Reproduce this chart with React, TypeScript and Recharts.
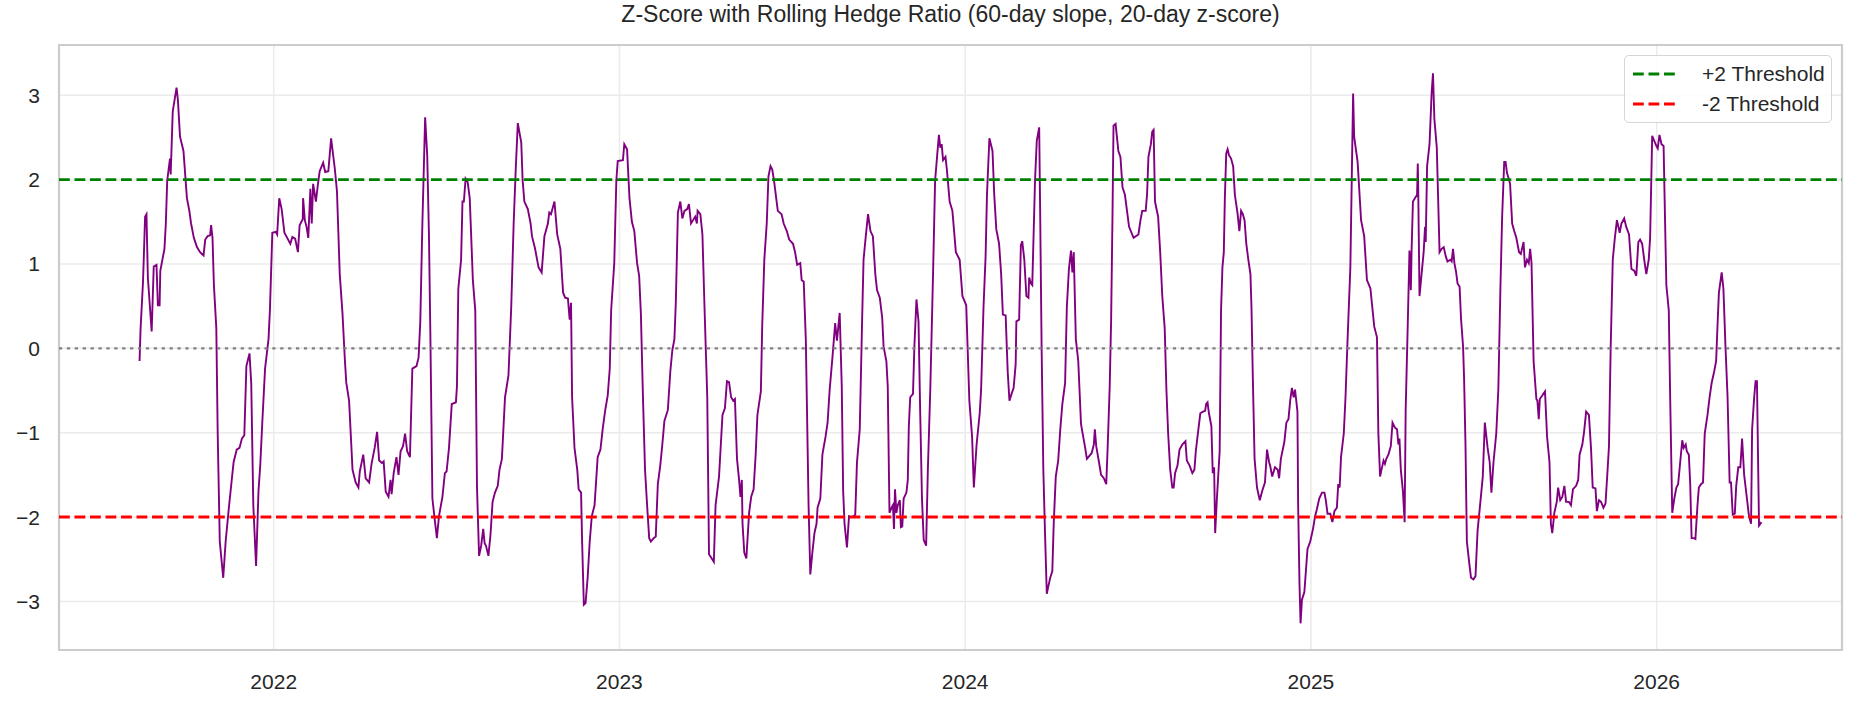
import {
  LineChart,
  Line,
  XAxis,
  YAxis,
  CartesianGrid,
  ReferenceLine,
  ReferenceArea,
} from 'recharts';

// time as decimal years (2022.0 = 1 Jan 2022)
const dates = [
  2021.612, 2021.615, 2021.622, 2021.628, 2021.632, 2021.636, 2021.642, 2021.647, 2021.653, 2021.661,
  2021.665, 2021.67, 2021.672, 2021.684, 2021.688, 2021.692, 2021.7, 2021.702, 2021.708, 2021.719,
  2021.723, 2021.729, 2021.739, 2021.749, 2021.756, 2021.761, 2021.769, 2021.778, 2021.787, 2021.797,
  2021.802, 2021.809, 2021.816, 2021.819, 2021.823, 2021.827, 2021.834, 2021.838, 2021.844, 2021.854,
  2021.861, 2021.871, 2021.884, 2021.893, 2021.901, 2021.908, 2021.915, 2021.921, 2021.93, 2021.935,
  2021.941, 2021.949, 2021.956, 2021.961, 2021.967, 2021.975, 2021.985, 2021.989, 2021.996, 2022.006,
  2022.01, 2022.016, 2022.023, 2022.031, 2022.039, 2022.048, 2022.054, 2022.062, 2022.07, 2022.075,
  2022.084,
  2022.085, 2022.09, 2022.095, 2022.1, 2022.106, 2022.11, 2022.114, 2022.122, 2022.128, 2022.133,
  2022.143, 2022.149, 2022.158, 2022.166, 2022.177, 2022.183, 2022.191, 2022.199, 2022.206, 2022.21,
  2022.218, 2022.228, 2022.237, 2022.245, 2022.249, 2022.259, 2022.266, 2022.276, 2022.283, 2022.292,
  2022.299, 2022.305, 2022.313, 2022.318, 2022.324, 2022.332, 2022.338, 2022.341, 2022.347, 2022.355,
  2022.361, 2022.367, 2022.374, 2022.38, 2022.386, 2022.394, 2022.401, 2022.413, 2022.419, 2022.424,
  2022.43, 2022.438, 2022.444, 2022.449, 2022.453, 2022.459, 2022.466, 2022.472, 2022.478, 2022.488,
  2022.495, 2022.5, 2022.507, 2022.515, 2022.527, 2022.53, 2022.534, 2022.542, 2022.546, 2022.55,
  2022.555, 2022.561, 2022.567,
  2022.576, 2022.583, 2022.588, 2022.594, 2022.6, 2022.606, 2022.61, 2022.614, 2022.621, 2022.627,
  2022.633, 2022.64, 2022.648, 2022.653, 2022.66, 2022.669, 2022.679, 2022.687, 2022.694, 2022.7,
  2022.706, 2022.716, 2022.72, 2022.725, 2022.735, 2022.743, 2022.747, 2022.756, 2022.766, 2022.775,
  2022.783, 2022.793, 2022.797, 2022.802, 2022.812, 2022.82, 2022.829, 2022.837, 2022.843, 2022.851,
  2022.856, 2022.86, 2022.863, 2022.87, 2022.878, 2022.882, 2022.889, 2022.892, 2022.897, 2022.902,
  2022.908, 2022.914, 2022.92, 2022.928, 2022.937, 2022.945, 2022.952, 2022.959, 2022.966, 2022.972,
  2022.976, 2022.985, 2022.991, 2022.995, 2023.01, 2023.014, 2023.022, 2023.029, 2023.036, 2023.043,
  2023.051,
  2023.057, 2023.062, 2023.068, 2023.074, 2023.08, 2023.086, 2023.091, 2023.099, 2023.105, 2023.111,
  2023.118, 2023.124, 2023.13, 2023.14, 2023.147, 2023.153, 2023.159, 2023.163, 2023.169, 2023.176,
  2023.182, 2023.188, 2023.196, 2023.201, 2023.207, 2023.213, 2023.219, 2023.224, 2023.226, 2023.234,
  2023.24, 2023.246, 2023.254, 2023.259, 2023.267, 2023.273, 2023.278, 2023.288, 2023.298, 2023.305,
  2023.311, 2023.317, 2023.323, 2023.329, 2023.334, 2023.34, 2023.346, 2023.35, 2023.354, 2023.356,
  2023.361, 2023.367, 2023.375, 2023.381, 2023.388, 2023.394, 2023.399, 2023.409, 2023.413, 2023.419,
  2023.426, 2023.431, 2023.437, 2023.442, 2023.447, 2023.454, 2023.458, 2023.469, 2023.475, 2023.484,
  2023.491, 2023.502, 2023.508, 2023.514, 2023.523, 2023.527, 2023.533, 2023.539,
  2023.547, 2023.552, 2023.558, 2023.564, 2023.57, 2023.573, 2023.581, 2023.587, 2023.596, 2023.602,
  2023.608, 2023.616, 2023.624, 2023.629, 2023.637, 2023.643, 2023.647, 2023.651, 2023.658, 2023.664,
  2023.67, 2023.678, 2023.682, 2023.687, 2023.695, 2023.702, 2023.706, 2023.712, 2023.719, 2023.726,
  2023.733, 2023.74, 2023.745, 2023.753, 2023.76, 2023.764, 2023.772, 2023.776, 2023.781, 2023.787,
  2023.791, 2023.794, 2023.797, 2023.801, 2023.805, 2023.811, 2023.814, 2023.818, 2023.822, 2023.83,
  2023.834, 2023.837, 2023.841, 2023.849, 2023.853, 2023.859, 2023.865, 2023.87, 2023.875, 2023.88,
  2023.887, 2023.892, 2023.899, 2023.907, 2023.913, 2023.919, 2023.924, 2023.928, 2023.932, 2023.936,
  2023.943, 2023.947, 2023.955, 2023.963, 2023.973, 2023.984, 2023.992, 2024.003, 2024.012, 2024.02,
  2024.025,
  2024.033, 2024.042, 2024.046, 2024.053, 2024.059, 2024.063, 2024.07, 2024.079, 2024.084, 2024.09,
  2024.098, 2024.104, 2024.109, 2024.117, 2024.123, 2024.128, 2024.134, 2024.14, 2024.146, 2024.148,
  2024.156, 2024.161, 2024.165, 2024.171, 2024.177, 2024.183, 2024.185, 2024.19, 2024.194, 2024.202,
  2024.207, 2024.214, 2024.217, 2024.221, 2024.226, 2024.231, 2024.236, 2024.241, 2024.246, 2024.252,
  2024.256, 2024.262, 2024.269, 2024.275, 2024.281, 2024.289, 2024.294, 2024.3, 2024.306, 2024.31,
  2024.314, 2024.32, 2024.327, 2024.335, 2024.347, 2024.352, 2024.358, 2024.366, 2024.372, 2024.375,
  2024.379, 2024.387, 2024.393, 2024.401, 2024.408, 2024.412, 2024.418, 2024.422, 2024.426, 2024.429,
  2024.435, 2024.443, 2024.449, 2024.455, 2024.462, 2024.468, 2024.474, 2024.487, 2024.501, 2024.507,
  2024.512,
  2024.522, 2024.526, 2024.53, 2024.537, 2024.541, 2024.545, 2024.549, 2024.558, 2024.564, 2024.57,
  2024.577, 2024.582, 2024.587, 2024.593, 2024.599, 2024.603, 2024.607, 2024.614, 2024.62, 2024.628,
  2024.637, 2024.641, 2024.649, 2024.657, 2024.663, 2024.667, 2024.673, 2024.68, 2024.688, 2024.694,
  2024.697, 2024.701, 2024.705, 2024.712, 2024.716, 2024.72, 2024.723, 2024.728, 2024.736, 2024.74,
  2024.744, 2024.748, 2024.751, 2024.755, 2024.759, 2024.763, 2024.769, 2024.775, 2024.78, 2024.788,
  2024.793, 2024.798, 2024.803, 2024.808, 2024.813, 2024.819, 2024.825, 2024.828, 2024.832, 2024.837,
  2024.844, 2024.852, 2024.859, 2024.867, 2024.873, 2024.879, 2024.882, 2024.888, 2024.896, 2024.904,
  2024.908, 2024.913, 2024.923, 2024.929, 2024.935, 2024.94, 2024.945, 2024.95, 2024.954, 2024.961,
  2024.963, 2024.967, 2024.97, 2024.974, 2024.981, 2024.987, 2024.99, 2024.998,
  2025.006, 2025.012, 2025.017, 2025.024, 2025.032, 2025.039, 2025.043, 2025.048, 2025.056, 2025.062,
  2025.068, 2025.075, 2025.079, 2025.083, 2025.087, 2025.095, 2025.1, 2025.106, 2025.114, 2025.118,
  2025.122, 2025.125, 2025.135, 2025.145, 2025.154, 2025.162, 2025.166, 2025.172, 2025.183, 2025.191,
  2025.195, 2025.2, 2025.204, 2025.21, 2025.214, 2025.218, 2025.224, 2025.231, 2025.236, 2025.243,
  2025.249, 2025.253, 2025.256, 2025.26, 2025.266, 2025.271, 2025.274, 2025.28, 2025.285, 2025.289,
  2025.291, 2025.295, 2025.307, 2025.309, 2025.31, 2025.314, 2025.32, 2025.326, 2025.33, 2025.332,
  2025.336, 2025.343, 2025.349, 2025.353, 2025.357, 2025.364, 2025.372, 2025.378, 2025.384, 2025.39,
  2025.395, 2025.403, 2025.407, 2025.411, 2025.415, 2025.42, 2025.424, 2025.43, 2025.434, 2025.44,
  2025.443, 2025.447, 2025.451, 2025.458, 2025.463, 2025.47, 2025.476, 2025.482,
  2025.492, 2025.497, 2025.503, 2025.511, 2025.517, 2025.522, 2025.528, 2025.536, 2025.542, 2025.548,
  2025.553, 2025.559, 2025.563, 2025.567, 2025.576, 2025.582, 2025.588, 2025.594, 2025.602, 2025.607,
  2025.615, 2025.619, 2025.625, 2025.63, 2025.634, 2025.638, 2025.644, 2025.652, 2025.655, 2025.659,
  2025.662, 2025.669, 2025.677, 2025.683, 2025.69, 2025.694, 2025.698, 2025.704, 2025.711, 2025.715,
  2025.721, 2025.727, 2025.733, 2025.738, 2025.746, 2025.752, 2025.758, 2025.767, 2025.773, 2025.777,
  2025.785, 2025.79, 2025.796, 2025.804, 2025.81, 2025.815, 2025.823, 2025.827, 2025.833, 2025.839,
  2025.846, 2025.852, 2025.858, 2025.862, 2025.867, 2025.873, 2025.879, 2025.885, 2025.893, 2025.898,
  2025.906, 2025.912, 2025.92, 2025.927, 2025.935, 2025.941, 2025.947, 2025.952, 2025.958, 2025.964,
  2025.97,
  2025.977, 2025.981, 2025.987, 2025.993, 2025.999, 2026.003, 2026.008, 2026.014, 2026.02, 2026.024,
  2026.028, 2026.035, 2026.039, 2026.045, 2026.051, 2026.057, 2026.062, 2026.068, 2026.074, 2026.078,
  2026.084, 2026.087, 2026.093, 2026.097, 2026.101, 2026.107, 2026.112, 2026.118, 2026.122, 2026.128,
  2026.134, 2026.139, 2026.147, 2026.153, 2026.159, 2026.166, 2026.172, 2026.176, 2026.18, 2026.188,
  2026.193, 2026.199, 2026.205, 2026.211, 2026.215, 2026.22, 2026.226, 2026.23, 2026.236, 2026.242,
  2026.247, 2026.253, 2026.261, 2026.267, 2026.273, 2026.276, 2026.282, 2026.286, 2026.29, 2026.296,
  2026.303,
];

const zScores = [
  -0.15, 0.24, 0.79, 1.56, 1.59, 0.84, 0.49, 0.2, 0.97, 0.99,
  0.51, 0.51, 0.92, 1.18, 1.48, 1.99, 2.25, 2.06, 2.81, 3.09,
  2.94, 2.51, 2.34, 1.78, 1.63, 1.48, 1.31, 1.2, 1.14, 1.1,
  1.29, 1.33, 1.34, 1.46, 1.31, 0.75, 0.24, -1.01, -2.29, -2.72,
  -2.29, -1.86, -1.35, -1.2, -1.18, -1.07, -1.03, -0.21, -0.06, -0.41,
  -1.86, -2.58, -1.69, -1.39, -0.88, -0.24, 0.11, 0.45, 1.37, 1.38,
  1.35, 1.78, 1.65, 1.37, 1.31, 1.24, 1.32, 1.3, 1.14, 1.46,
  1.53,
  1.78, 1.52, 1.44, 1.31, 1.89, 1.48, 1.95, 1.74, 1.95, 2.1,
  2.2, 2.09, 2.1, 2.49, 2.12, 1.86, 0.88, 0.41, -0.15, -0.41,
  -0.62, -1.44, -1.59, -1.65, -1.46, -1.26, -1.54, -1.59, -1.37, -1.18,
  -0.99, -1.33, -1.36, -1.34, -1.7, -1.76, -1.56, -1.73, -1.48, -1.29,
  -1.5, -1.22, -1.16, -1.01, -1.22, -1.29, -0.24, -0.21, -0.11, 0.32,
  1.48, 2.74, 2.29, 1.35, 0.19, -1.78, -2.04, -2.25, -1.99, -1.76,
  -1.48, -1.46, -1.18, -0.66, -0.64, -0.45, 0.71, 1.05, 1.74, 1.74,
  2.01, 1.97, 1.78,
  0.81, 0.45, -1.65, -2.46, -2.34, -2.14, -2.31, -2.34, -2.46, -2.21,
  -1.82, -1.71, -1.63, -1.44, -1.31, -0.58, -0.32, 0.49, 1.48, 2.12,
  2.67, 2.44, 1.99, 1.74, 1.65, 1.48, 1.33, 1.18, 0.96, 0.9,
  1.33, 1.48, 1.61, 1.59, 1.74, 1.35, 1.18, 0.66, 0.6, 0.59,
  0.34, 0.54, -0.58, -1.18, -1.44, -1.67, -1.71, -2.29, -3.04, -3.02,
  -2.72, -2.29, -1.99, -1.86, -1.29, -1.2, -0.94, -0.73, -0.56, -0.24,
  0.45, 1.01, 1.99, 2.22, 2.23, 2.42, 2.36, 1.78, 1.5, 1.39,
  1.01,
  0.86, 0.41, -0.58, -1.44, -1.86, -2.25, -2.29, -2.25, -2.23, -1.61,
  -1.39, -1.14, -0.86, -0.73, -0.28, -0.02, 0.11, 0.54, 1.61, 1.74,
  1.54, 1.63, 1.65, 1.71, 1.48, 1.52, 1.56, 1.48, 1.63, 1.59,
  1.35, 0.49, -0.58, -2.44, -2.49, -2.53, -1.86, -1.52, -0.79, -0.71,
  -0.39, -0.4, -0.58, -0.62, -0.6, -1.31, -1.56, -1.76, -1.56, -2.08,
  -2.42, -2.49, -1.95, -1.76, -1.67, -1.26, -0.79, -0.51, 0.28, 1.05,
  1.48, 2.04, 2.16, 2.12, 1.99, 1.76, 1.63, 1.59, 1.48, 1.39,
  1.29, 1.24, 1.14, 0.99, 1.01, 0.81, 0.79, 0.11,
  -1.86, -2.68, -2.42, -2.19, -2.08, -1.89, -1.78, -1.26, -1.05, -0.88,
  -0.49, -0.11, 0.3, 0.09, 0.42, -0.45, -1.69, -2.08, -2.36, -1.99,
  -2.0, -1.99, -1.97, -1.35, -0.96, 0.36, 1.05, 1.31, 1.59, 1.39,
  1.33, 0.88, 0.69, 0.6, 0.36, 0.02, -0.15, -0.45, -1.95, -1.89,
  -1.86, -2.14, -1.67, -1.95, -1.86, -1.8, -2.12, -2.11, -1.78, -1.71,
  -1.56, -0.92, -0.58, -0.54, 0.02, 0.58, 0.32, -0.79, -1.78, -2.27,
  -2.34, -1.44, -0.49, 0.88, 1.99, 2.29, 2.53, 2.38, 2.42, 2.23,
  2.27, 2.12, 1.74, 1.63, 1.14, 1.05, 0.62, 0.51, -0.62, -1.05,
  -1.65,
  -1.14, -0.77, -0.49, 0.49, 1.09, 1.82, 2.49, 2.34, 1.82, 1.41,
  1.24, 0.88, 0.4, 0.39, -0.28, -0.62, -0.54, -0.47, -0.19, 0.32,
  0.34, 1.22, 1.27, 1.05, 0.62, 0.6, 0.84, 0.77, 0.75, 1.99,
  2.46, 2.62, 1.56, 0.02, -1.44, -2.21, -2.91, -2.81, -2.72, -2.64,
  -2.08, -1.52, -1.33, -0.96, -0.66, -0.41, 0.49, 0.94, 1.16, 0.9,
  1.14, 0.11, -0.15, -0.9, -1.18, -1.31, -1.28, -1.24, -1.14, -0.96,
  -1.16, -1.35, -1.5, -1.54, -1.61, -1.18, -0.45, 0.32, 1.56, 2.64,
  2.66, 2.34, 2.27, 1.91, 1.82, 1.63, 1.44, 1.31, 1.35, 1.52,
  1.63,
  1.63, 1.82, 2.27, 2.42, 2.57, 2.59, 1.74, 1.56, 1.14, 0.62,
  0.24, -0.49, -1.01, -1.44, -1.65, -1.65, -1.48, -1.39, -1.2, -1.14,
  -1.1, -1.33, -1.39, -1.48, -1.44, -1.22, -1.01, -0.77, -0.75, -0.74,
  -0.66, -0.64, -0.77, -0.92, -1.48, -1.41, -2.19, -1.78, -1.22, 0.45,
  0.96, 1.14, 1.78, 2.31, 2.36, 2.29, 2.25, 2.16, 1.82, 1.59,
  1.39, 1.63, 1.59, 1.52, 1.24, 1.05, 0.88, 0.49, -0.36, -1.31,
  -1.65, -1.8, -1.69, -1.59, -1.2, -1.35, -1.39, -1.52, -1.41, -1.44,
  -1.54, -1.31, -1.11, -0.88, -0.84, -0.62, -0.47, -0.58, -0.49, -0.75,
  -1.86, -2.81, -3.26, -2.98, -2.89, -2.55, -2.38, -2.29,
  -2.14, -1.99, -1.91, -1.78, -1.71, -1.71, -1.8, -1.96, -1.96, -2.06,
  -1.93, -1.89, -1.61, -1.65, -1.29, -1.01, -0.58, 0.11, 0.96, 1.99,
  3.02, 2.51, 2.21, 1.52, 1.33, 0.81, 0.77, 0.71, 0.26, 0.13,
  -1.01, -1.52, -1.44, -1.33, -1.37, -1.31, -1.26, -1.16, -0.88, -0.94,
  -0.96, -1.14, -1.07, -1.44, -1.69, -2.06, -0.73, 0.28, 1.16, 0.69,
  1.14, 1.74, 1.82, 2.19, 1.99, 0.62, 0.88, 1.14, 1.44, 1.26,
  2.16, 2.42, 3.02, 3.26, 2.72, 2.38, 1.14, 1.18, 1.2, 1.09,
  1.03, 1.05, 1.03, 1.18, 1.01, 0.9, 0.77, 0.73, 0.36, 0.02,
  -0.36, -1.14, -2.29, -2.55, -2.72, -2.74, -2.7, -2.16,
  -1.74, -1.52, -0.88, -1.18, -1.35, -1.71, -1.35, -1.01, -0.49, 0.71,
  1.56, 2.21, 2.21, 2.08, 1.95, 1.48, 1.39, 1.31, 1.14, 1.12,
  1.26, 0.96, 1.05, 1.01, 1.18, 1.01, -0.15, -0.6, -0.62, -0.84,
  -0.6, -0.56, -0.51, -1.05, -1.35, -2.08, -2.19, -1.95, -1.82, -1.65,
  -1.8, -1.76, -1.63, -1.82, -1.82, -1.86, -1.67, -1.63, -1.56, -1.26,
  -1.14, -0.99, -0.75, -0.79, -1.18, -1.65, -1.66, -1.93, -1.8, -1.82,
  -1.89, -1.84, -1.44, -1.16, 0.02, 1.05, 1.31, 1.52, 1.37, 1.48,
  1.54, 1.44, 1.35, 0.94, 0.92, 0.86, 1.26, 1.29, 1.24, 1.05,
  0.88,
  1.05, 1.31, 2.52, 2.46, 2.4, 2.37, 2.53, 2.42, 2.4, 1.56,
  0.75, 0.45, -0.58, -1.95, -1.78, -1.65, -1.61, -1.35, -1.09, -1.18,
  -1.14, -1.22, -1.26, -1.61, -2.25, -2.25, -2.26, -1.86, -1.65, -1.61,
  -1.59, -1.01, -0.79, -0.58, -0.41, -0.28, -0.15, 0.28, 0.66, 0.9,
  0.71, 0.02, -0.58, -1.59, -1.59, -1.97, -1.96, -1.63, -1.41, -1.41,
  -1.07, -1.5, -1.78, -1.99, -2.08, -0.96, -0.58, -0.39, -0.39, -2.1,
  -2.06,
];

const yearTicks = [2022, 2023, 2024, 2025, 2026];
const zTicks = [-3, -2, -1, 0, 1, 2, 3];
const thresholdValues = [2, -2];
const thresholdLabels = ['+2 Threshold', '-2 Threshold'];
const chartTitle = 'Z-Score with Rolling Hedge Ratio (60-day slope, 20-day z-score)';

const X_DOMAIN: [number, number] = [2021.379, 2026.536];
const Y_DOMAIN: [number, number] = [-3.576, 3.596];
const FONT = '"Liberation Sans", Arial, Helvetica, sans-serif';
const TEXT = '#262626';
const THRESHOLD_COLORS = ['#008000', '#ff0000'];

const data = dates.map((t, i) => ({ t, z: zScores[i] }));

const withMinus = (v: number) => String(v).replace('-', '\u2212');

const ThresholdLegend = () => (
  <div
    style={{
      position: 'absolute',
      left: 1624,
      top: 55,
      width: 206,
      height: 66,
      border: '1.5px solid #d6d6d6',
      borderRadius: 5,
      background: 'rgba(255,255,255,0.85)',
    }}
  >
    {thresholdLabels.map((label, i) => (
      <div
        key={label}
        style={{
          position: 'absolute',
          left: 0,
          top: 3 + i * 30,
          height: 30,
          display: 'flex',
          alignItems: 'center',
        }}
      >
        <svg width={60} height={10} style={{ marginLeft: 8 }}>
          <line
            x1={0}
            y1={5}
            x2={45}
            y2={5}
            stroke={THRESHOLD_COLORS[i]}
            strokeWidth={2.9}
            strokeDasharray="10.8 4.7"
          />
        </svg>
        <span style={{ marginLeft: 9, fontSize: 21, color: TEXT, fontFamily: FONT }}>{label}</span>
      </div>
    ))}
  </div>
);

const App = () => {
  return (
    <div
      style={{
        position: 'absolute',
        left: 0,
        top: 0,
        width: 1857,
        height: 705,
        background: '#ffffff',
        fontFamily: FONT,
      }}
    >
      <div
        style={{
          position: 'absolute',
          left: 59,
          width: 1783,
          top: 3,
          textAlign: 'center',
          fontSize: 23,
          lineHeight: '23px',
          color: TEXT,
        }}
      >
        {chartTitle}
      </div>
      <LineChart
        width={1857}
        height={705}
        data={data}
        margin={{ top: 45, right: 15, left: 0, bottom: 0 }}
      >
        <CartesianGrid stroke="#ebebeb" strokeWidth={1.5} />
        <XAxis
          dataKey="t"
          type="number"
          domain={X_DOMAIN}
          ticks={yearTicks}
          allowDataOverflow
          height={55}
          axisLine={false}
          tickLine={false}
          tickSize={0}
          tickMargin={24}
          tick={{ fill: TEXT, fontSize: 21, fontFamily: FONT }}
          tickFormatter={(v: number) => String(v)}
        />
        <YAxis
          type="number"
          domain={Y_DOMAIN}
          ticks={zTicks}
          allowDataOverflow
          width={59}
          axisLine={false}
          tickLine={false}
          tickSize={0}
          tickMargin={19}
          tick={{ fill: TEXT, fontSize: 21, fontFamily: FONT }}
          tickFormatter={withMinus}
        />
        <ReferenceArea
          x1={X_DOMAIN[0]}
          x2={X_DOMAIN[1]}
          y1={Y_DOMAIN[0]}
          y2={Y_DOMAIN[1]}
          fill="none"
          stroke="#cccccc"
          strokeWidth={2.2}
        />
        <Line
          type="linear"
          dataKey="z"
          stroke="#800080"
          strokeWidth={1.9}
          dot={false}
          isAnimationActive={false}
        />
        <ReferenceLine y={0} stroke="#808080" strokeWidth={2.2} strokeDasharray="3.2 4.7" />
        {thresholdValues.map((v, i) => (
          <ReferenceLine
            key={v}
            y={v}
            stroke={THRESHOLD_COLORS[i]}
            strokeWidth={2.9}
            strokeDasharray="10.8 4.7"
          />
        ))}
      </LineChart>
      <ThresholdLegend />
    </div>
  );
};

export default App;
